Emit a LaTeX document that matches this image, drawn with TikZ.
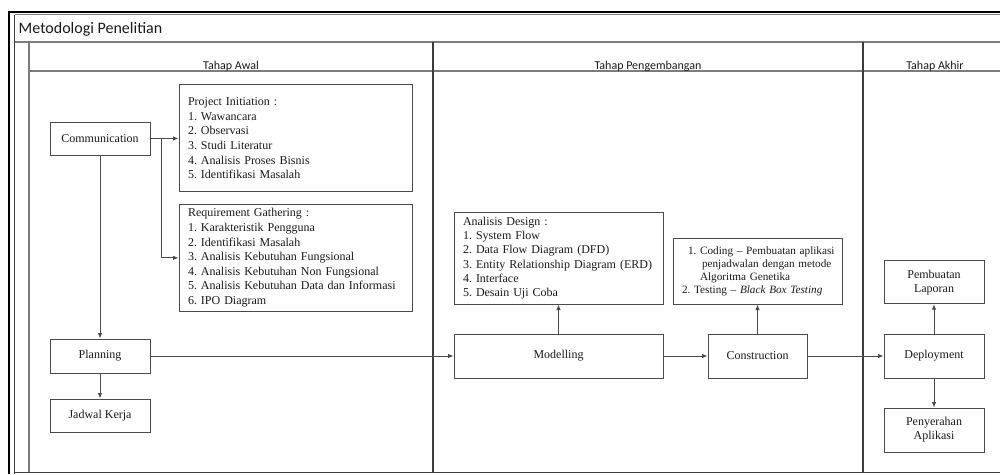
\documentclass[tikz,border=0pt]{standalone}
\usepackage{fontspec}
\setmainfont{Liberation Serif}
\newfontfamily\hdrfont{Carlito}
\usetikzlibrary{arrows.meta}
\definecolor{framegray}{HTML}{7C7C7C}
\definecolor{edgegray}{HTML}{3C3C3C}
\definecolor{boxgray}{HTML}{4A4A4A}
\definecolor{inkgray}{HTML}{1A1A1A}
\frenchspacing

\begin{document}
\begin{tikzpicture}[x=1pt,y=-1pt,
  box/.style={draw=boxgray, line width=1pt, fill=white, text=inkgray,
    font=\fontsize{12}{14}\selectfont, align=center, inner sep=2pt},
  stepbox/.style={box, minimum width=100pt, minimum height=#1},
  listbox/.style={box, align=left, inner xsep=9pt, inner ysep=0pt, text width=#1,
    font=\fontsize{12}{14.6}\selectfont},
  flow/.style={draw=boxgray, line width=0.9pt, -{Latex[length=5.5pt,width=4.5pt]}},
  hdr/.style={font=\hdrfont\fontsize{12}{14}\selectfont, text=inkgray, inner sep=0pt},
]
\useasboundingbox (0,0) rectangle (1000,474);

% swimlane frame
\draw[black, line width=2pt] (9,474) -- (9,11.5) -- (1000,11.5);
\draw[edgegray, line width=1.3pt] (14.5,474) -- (14.5,14.5);
\draw[framegray, line width=1.3pt] (14.5,14.5) -- (1000,14.5);
\draw[framegray, line width=1.5pt] (14.5,42) -- (1000,42);
\draw[framegray, line width=1.3pt] (29,42) -- (29,472.5);
\draw[framegray, line width=1.3pt] (29,71) -- (1000,71);
\draw[edgegray, line width=1.3pt] (433,42) -- (433,472.5);
\draw[edgegray, line width=1.3pt] (863,42) -- (863,472.5);
\draw[edgegray, line width=1.5pt] (14.5,472.5) -- (1000,472.5);

% titles
\node[hdr, font=\hdrfont\fontsize{16}{18}\selectfont, anchor=base west] (title) at (18.5,33.3) {Metodologi Penelitian};
\node[hdr, anchor=base] (hAwal) at (231,69.3) {Tahap Awal};
\node[hdr, anchor=base] (hDev) at (648,69.3) {Tahap Pengembangan};
\node[hdr, anchor=base] (hAkhir) at (935,69.3) {Tahap Akhir};

% Tahap Awal
\node[stepbox=33pt] (comm) at (100,138.5) {Communication};
\node[stepbox=34pt] (plan) at (100,356) {Planning};
\node[stepbox=33pt] (jadwal) at (100,415.5) {Jadwal Kerja};
\node[listbox=215pt, minimum height=107pt] (pi) at (295.5,138.3) {Project Initiation :\\
1. Wawancara\\
2. Observasi\\
3. Studi Literatur\\
4. Analisis Proses Bisnis\\
5. Identifikasi Masalah};
\node[listbox=215pt, minimum height=107.5pt] (rg) at (295.5,257.9) {Requirement Gathering :\\
1. Karakteristik Pengguna\\
2. Identifikasi Masalah\\
3. Analisis Kebutuhan Fungsional\\
4. Analisis Kebutuhan Non Fungsional\\
5. Analisis Kebutuhan Data dan Informasi\\
6. IPO Diagram};

% Tahap Pengembangan
\node[stepbox=44pt, minimum width=209pt] (model) at (558.5,356) {Modelling};
\node[stepbox=44pt, minimum width=99pt] (constr) at (757.5,356) {Construction};
\node[listbox=191pt, minimum height=92pt, font=\fontsize{12}{14.3}\selectfont] (ad) at (558.5,258) {Analisis Design :\\
1. System Flow\\
2. Data Flow Diagram (DFD)\\
3. Entity Relationship Diagram (ERD)\\
4. Interface\\
5. Desain Uji Coba};
\node[listbox=157pt, inner xsep=6pt, minimum height=66pt, font=\fontsize{11.2}{13}\selectfont] (coding) at (757.5,271) {%
\hspace*{9pt}\mbox{1. Coding – Pembuatan aplikasi}\\
\hspace*{23pt}\mbox{penjadwalan dengan metode}\\
\hspace*{21pt}\mbox{Algoritma Genetika}\\
\hspace*{3pt}\mbox{2. Testing – \textit{Black Box Testing}}};

% Tahap Akhir
\node[stepbox=44pt] (deploy) at (934,356) {Deployment};
\node[stepbox=43pt] (laporan) at (934,282.2) {Pembuatan\\Laporan};
\node[stepbox=44pt] (serah) at (934,430) {Penyerahan\\Aplikasi};

% connectors
\coordinate (split) at ([xshift=11pt]comm.east);
\draw[flow] (comm.east) -- (comm.east -| pi.west);
\draw[flow] (split) |- (rg.west);
\draw[flow] (comm) -- (plan);
\draw[flow] (plan) -- (jadwal);
\draw[flow] (plan) -- (model);
\draw[flow] (model) -- (ad);
\draw[flow] (model) -- (constr);
\draw[flow] (constr) -- (coding);
\draw[flow] (constr) -- (deploy);
\draw[flow] (deploy) -- (laporan);
\draw[flow] (deploy) -- (serah);
\end{tikzpicture}
\end{document}
